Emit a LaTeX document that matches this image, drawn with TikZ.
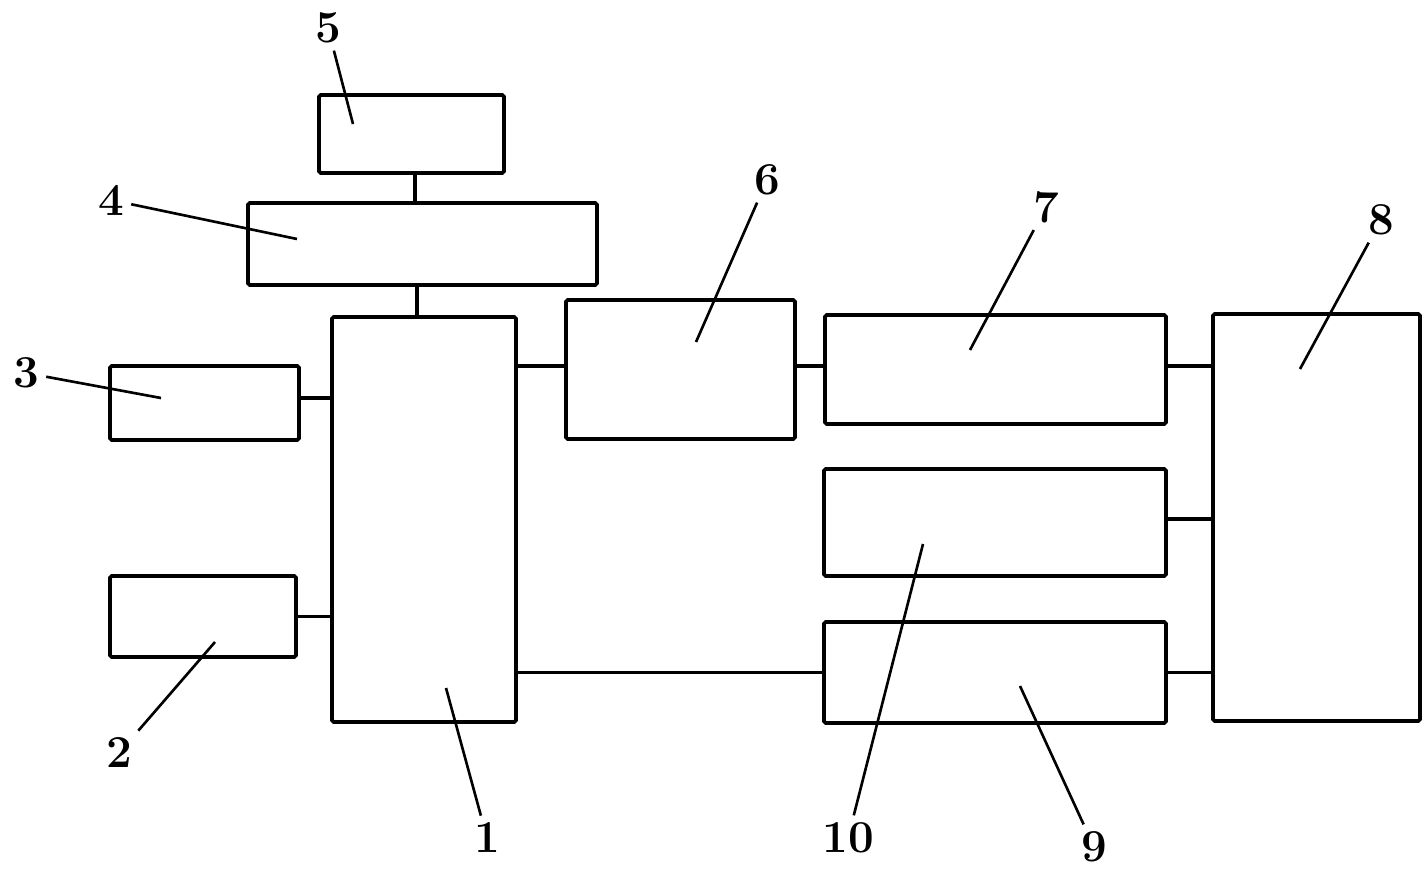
\documentclass[tikz,border=0pt]{standalone}
\usepackage{tikz}
\tikzset{
  blk/.style={draw, line width=2.1pt, rounded corners=1pt, inner sep=0pt},
  lbl/.style={font=\fontsize{26}{31}\selectfont\bfseries, inner sep=4pt},
  wire/.style={line width=2.1pt},
  lead/.style={line width=1.5pt}
}
\begin{document}
\begin{tikzpicture}[x=0.02cm, y=-0.02cm]
  \useasboundingbox (0,0) rectangle (1426,875);

  % Blocs
  \node[blk, minimum width=3.70cm, minimum height=1.56cm] (b5) at (411.5,134) {};
  \node[blk, minimum width=6.98cm, minimum height=1.64cm] (b4) at (422.5,244) {};
  \node[blk, minimum width=3.68cm, minimum height=8.10cm] (b1) at (424,519.5) {};
  \node[blk, minimum width=3.78cm, minimum height=1.48cm] (b3) at (204.5,403) {};
  \node[blk, minimum width=3.72cm, minimum height=1.62cm] (b2) at (203,616.5) {};
  \node[blk, minimum width=4.58cm, minimum height=2.78cm] (b6) at (680.5,369.5) {};
  \node[blk, minimum width=6.82cm, minimum height=2.18cm] (b7) at (995.5,369.5) {};
  \node[blk, minimum width=6.84cm, minimum height=2.14cm] (b10) at (995,522.5) {};
  \node[blk, minimum width=6.84cm, minimum height=2.02cm] (b9) at (995,672.5) {};
  \node[blk, minimum width=4.14cm, minimum height=8.14cm] (b8) at (1316.5,517.5) {};

  % Liaisons
  \draw[wire] ([xshift=0.07cm]b5.south) -- ([xshift=0.07cm]b5.south |- b4.north);
  \draw[wire] ([xshift=-0.14cm]b1.north) -- ([xshift=-0.14cm]b1.north |- b4.south);
  \draw[wire] ([yshift=0.1cm]b3.east) -- ([yshift=0.1cm]b3.east -| b1.west);
  \draw[wire] (b2.east) -- (b2.east -| b1.west);
  \draw[wire] ([yshift=0.07cm]b6.west) -- ([yshift=0.07cm]b6.west -| b1.east);
  \draw[wire] ([yshift=0.07cm]b6.east) -- ([yshift=0.07cm]b6.east -| b7.west);
  \draw[wire] ([yshift=0.07cm]b7.east) -- ([yshift=0.07cm]b7.east -| b8.west);
  \draw[wire] ([yshift=0.07cm]b10.east) -- ([yshift=0.07cm]b10.east -| b8.west);
  \draw[wire] (b9.east) -- (b9.east -| b8.west);
  \draw[wire] (b9.west) -- (b9.west -| b1.east);

  % Reperes
  \node[lbl] (l1) at (487,838) {1};
  \node[lbl] (l2) at (119,753) {2};
  \node[lbl] (l3) at (26,373) {3};
  \node[lbl] (l4) at (111,200) {4};
  \node[lbl] (l5) at (328,28) {5};
  \node[lbl] (l6) at (767,180) {6};
  \node[lbl] (l7) at (1046,207) {7};
  \node[lbl] (l8) at (1381,220) {8};
  \node[lbl] (l9) at (1094,847) {9};
  \node[lbl] (l10) at (848,838) {10};

  % Traits de rappel
  \coordinate (p1) at (446,688);
  \coordinate (p2) at (215,642);
  \coordinate (p3) at (161,398);
  \coordinate (p4) at (297,239);
  \coordinate (p5) at (353,124);
  \coordinate (p6) at (696,342);
  \coordinate (p7) at (970,350);
  \coordinate (p8) at (1300,369);
  \coordinate (p9) at (1020,686);
  \coordinate (p10) at (923,544);
  \foreach \n in {1,...,10}
    \draw[lead] (l\n) -- (p\n);
\end{tikzpicture}
\end{document}
